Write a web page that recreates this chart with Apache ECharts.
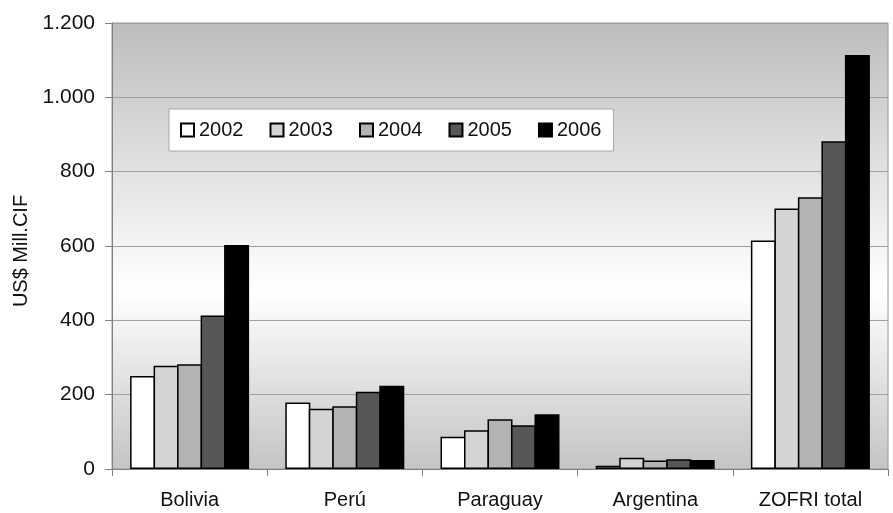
<!DOCTYPE html>
<html>
<head>
<meta charset="utf-8">
<script src="https://cdn.jsdelivr.net/npm/echarts@6/dist/echarts.min.js"></script>
<style>
  html, body { margin: 0; padding: 0; background: #fff; }
  #chart { width: 893px; height: 513px; }
</style>
</head>
<body>
<div id="chart"></div>
<script>
var categories = ['Bolivia', 'Perú', 'Paraguay', 'Argentina', 'ZOFRI total']
var years = ['2002', '2003', '2004', '2005', '2006']
var v2002 = [250, 179, 87, 9, 615]
var v2003 = [278, 162, 104, 30, 701]
var v2004 = [282, 169, 134, 23, 731]
var v2005 = [413, 208, 118, 26, 882]
var v2006 = [603, 224, 147, 24, 1114]
var yearColors = ['#ffffff', '#d4d4d4', '#b3b3b3', '#575757', '#000000']

var values = [v2002, v2003, v2004, v2005, v2006]

// 1200 -> 1.200
function fmt (v) {
  return String(v).replace(/\B(?=(\d{3})+(?!\d))/g, '.')
}

var chart = echarts.init(document.getElementById('chart'))
chart.setOption({
  animation: false,
  textStyle: { fontFamily: 'Liberation Sans, Arial, sans-serif' },
  grid: {
    left: 112,
    right: 5,
    top: 23,
    bottom: 44,
    show: true,
    borderColor: '#9a9a9a',
    borderWidth: 1,
    backgroundColor: {
      type: 'linear', x: 0, y: 0, x2: 0, y2: 1,
      colorStops: [
        { offset: 0, color: '#bdbdbd' },
        { offset: 0.6, color: '#ffffff' },
        { offset: 1, color: '#c4c4c4' }
      ]
    }
  },
  legend: {
    left: 169,
    top: 109,
    orient: 'horizontal',
    backgroundColor: '#ffffff',
    borderColor: '#a8a8a8',
    borderWidth: 1,
    padding: [11, 12, 11, 11],
    itemGap: 26,
    itemWidth: 13,
    itemHeight: 13,
    icon: 'rect',
    textStyle: { fontSize: 20, color: '#111' },
    data: years
  },
  xAxis: {
    type: 'category',
    data: categories,
    axisLine: { lineStyle: { color: '#808080', width: 1 } },
    axisTick: { show: true, alignWithLabel: false, length: 7, lineStyle: { color: '#808080' } },
    axisLabel: { fontSize: 20, color: '#111', margin: 21 }
  },
  yAxis: {
    type: 'value',
    min: 0,
    max: 1200,
    interval: 200,
    name: 'US$ Mill.CIF',
    nameLocation: 'middle',
    nameGap: 80,
    nameTextStyle: { fontSize: 20, color: '#111', padding: [0, 0, 0, -10] },
    axisLine: { show: true, lineStyle: { color: '#808080' } },
    axisTick: { show: true, length: 7, lineStyle: { color: '#808080' } },
    axisLabel: { fontSize: 21, color: '#111', margin: 17, formatter: fmt },
    splitLine: { lineStyle: { color: '#a0a0a0', width: 1 } }
  },
  series: years.map(function (y, i) {
    return {
      name: y,
      type: 'bar',
      data: values[i],
      barWidth: 25,
      barGap: '-6%',
      itemStyle: { color: yearColors[i], borderColor: '#000', borderWidth: 1.5 }
    }
  })
})
</script>
</body>
</html>
